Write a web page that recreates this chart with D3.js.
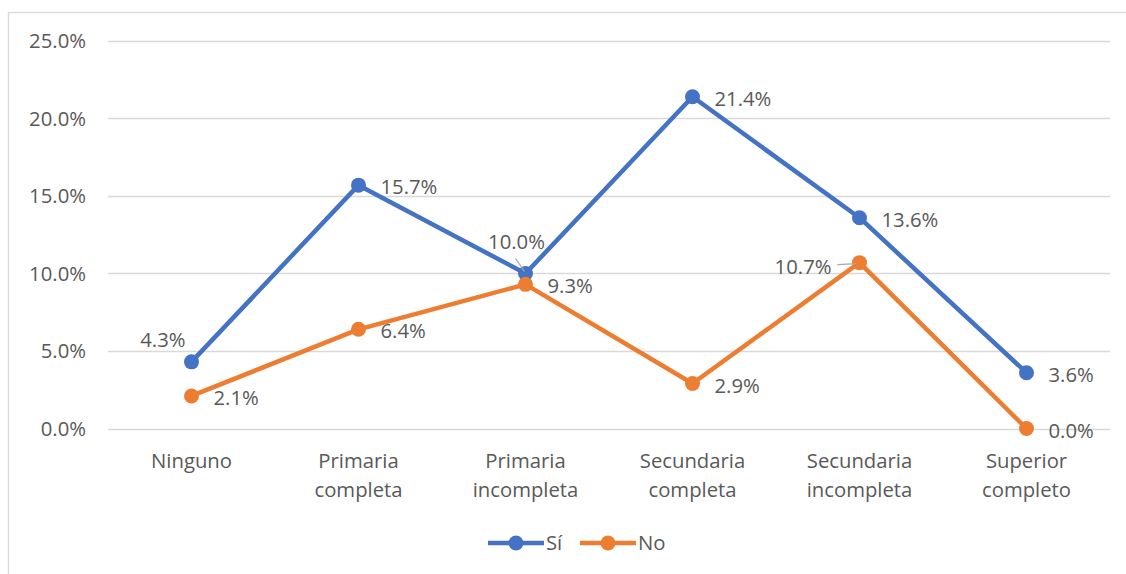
<!DOCTYPE html>
<html>
<head>
<meta charset="utf-8">
<script src="https://cdn.jsdelivr.net/npm/d3@7"></script>
<style>
  body { margin: 0; background: #fff; }
  svg text { font-family: "Open Sans", "Noto Sans", sans-serif; fill: #595959; }
</style>
</head>
<body>
<svg id="chart" width="1126" height="574"></svg>
<script>
const categories = [
  ["Ninguno"],
  ["Primaria", "completa"],
  ["Primaria", "incompleta"],
  ["Secundaria", "completa"],
  ["Secundaria", "incompleta"],
  ["Superior", "completo"]
];
const si = [0.043, 0.157, 0.100, 0.214, 0.136, 0.036];
const no = [0.021, 0.064, 0.093, 0.029, 0.107, 0.000];
const yTicks = [0, 0.05, 0.10, 0.15, 0.20, 0.25];

// label offsets relative to the point (Excel-style placement)
const siLabelPos = ["left-up", "right", "above-left", "right", "right", "right"];
const noLabelPos = ["right", "right", "right", "right", "left", "right"];

const series = [
  { name: "Sí", values: si, color: "#4472C4", pos: siLabelPos },
  { name: "No", values: no, color: "#ED7D31", pos: noLabelPos }
];

const svg = d3.select("#chart");
const fontSize = 20.3;

// chart border
svg.append("rect")
  .attr("x", 8.5).attr("y", 12.5)
  .attr("width", 1130).attr("height", 580)
  .attr("fill", "none").attr("stroke", "#d9d9d9").attr("stroke-width", 1.3);

const x = d3.scaleBand()
  .domain(d3.range(categories.length))
  .range([108, 1110]);

const y = d3.scaleLinear()
  .domain([0, 0.25])
  .range([428.5, 41]);

const fmt = d3.format(".1%");

// gridlines
svg.append("g")
  .selectAll("line")
  .data(yTicks)
  .join("line")
  .attr("x1", 108).attr("x2", 1110)
  .attr("y1", d => Math.round(y(d)) + 0.5)
  .attr("y2", d => Math.round(y(d)) + 0.5)
  .attr("stroke", "#d9d9d9").attr("stroke-width", 1.3);

// y tick labels
svg.append("g")
  .selectAll("text")
  .data(yTicks)
  .join("text")
  .attr("x", 86)
  .attr("y", d => y(d))
  .attr("dy", "0.35em")
  .attr("text-anchor", "end")
  .attr("font-size", fontSize)
  .text(d => fmt(d));

// x category labels
const xLabels = svg.append("g")
  .selectAll("text")
  .data(categories)
  .join("text")
  .attr("text-anchor", "middle")
  .attr("font-size", fontSize)
  .attr("transform", (d, i) => `translate(${x(i) + x.bandwidth() / 2},468)`);
xLabels.selectAll("tspan")
  .data(d => d)
  .join("tspan")
  .attr("x", 0)
  .attr("dy", (d, i) => i === 0 ? 0 : 29)
  .text(d => d);

const cx = i => x(i) + x.bandwidth() / 2;

const line = d3.line()
  .x((d, i) => cx(i))
  .y(d => y(d));

series.forEach(s => {
  const g = svg.append("g");
  g.append("path")
    .datum(s.values)
    .attr("fill", "none")
    .attr("stroke", s.color)
    .attr("stroke-width", 4.5)
    .attr("stroke-linejoin", "round")
    .attr("d", line);
  g.selectAll("circle")
    .data(s.values)
    .join("circle")
    .attr("cx", (d, i) => cx(i))
    .attr("cy", d => y(d))
    .attr("r", 7.5)
    .attr("fill", s.color);
});

// data labels
const labels = svg.append("g");
series.forEach(s => {
  s.values.forEach((v, i) => {
    const px = cx(i), py = y(v);
    const pos = s.pos[i];
    let tx = px + 22, ty = py + 2, anchor = "start";
    if (pos === "left-up") { tx = px - 6; ty = py - 22; anchor = "end"; }
    if (pos === "above-left") {
      tx = px - 9; ty = py - 32; anchor = "middle";
      labels.append("line")
        .attr("x1", px - 10).attr("y1", py - 15)
        .attr("x2", px - 1).attr("y2", py - 2)
        .attr("stroke", "#a6a6a6").attr("stroke-width", 1.3);
    }
    if (pos === "left") {
      tx = px - 28; ty = py + 4; anchor = "end";
      labels.append("line")
        .attr("x1", px - 22).attr("y1", py + 2)
        .attr("x2", px - 3).attr("y2", py + 1)
        .attr("stroke", "#a6a6a6").attr("stroke-width", 1.3);
    }
    labels.append("text")
      .attr("x", tx).attr("y", ty)
      .attr("dy", "0.35em")
      .attr("text-anchor", anchor)
      .attr("font-size", fontSize)
      .text(fmt(v));
  });
});

// legend
const legend = svg.append("g");
const legendItems = [{ s: series[0], x: 488 }, { s: series[1], x: 580 }];
legendItems.forEach(({ s, x: lx }) => {
  const ly = 543;
  legend.append("line")
    .attr("x1", lx).attr("x2", lx + 56)
    .attr("y1", ly).attr("y2", ly)
    .attr("stroke", s.color).attr("stroke-width", 4.5);
  legend.append("circle")
    .attr("cx", lx + 28).attr("cy", ly).attr("r", 7.5)
    .attr("fill", s.color);
  legend.append("text")
    .attr("x", lx + 58).attr("y", ly)
    .attr("dy", "0.35em")
    .attr("font-size", fontSize)
    .text(s.name);
});
</script>
</body>
</html>
